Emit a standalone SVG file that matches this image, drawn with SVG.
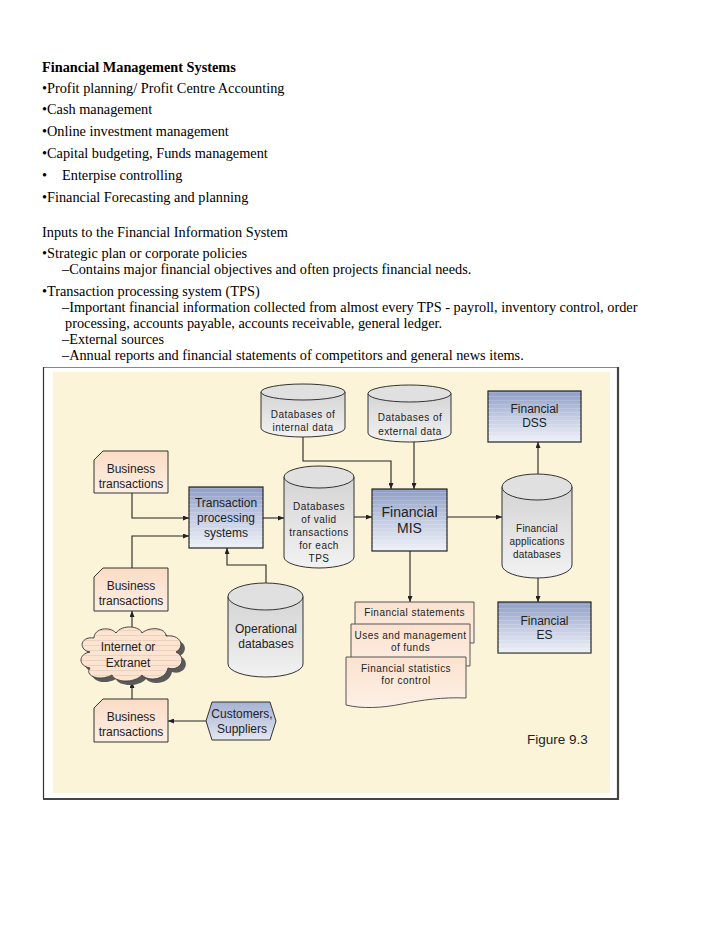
<svg xmlns="http://www.w3.org/2000/svg" width="728" height="942" viewBox="0 0 728 942">
<style>
.t{font-family:"Liberation Serif","Times New Roman",serif;font-size:14.3px;fill:#000}
.b{font-weight:bold}
.s{font-family:"Liberation Sans",Arial,sans-serif;fill:#222;text-anchor:middle}
.f12{font-size:12px}
.f14{font-size:14px}
.f10{font-size:10px;letter-spacing:0.45px}
.f95{font-size:10px;letter-spacing:0.2px}
.ln{fill:none;stroke:#222;stroke-width:1.1}
.box{fill:url(#boxG);stroke:#222;stroke-width:1.2}
.cyl{fill:url(#cylG);stroke:#333;stroke-width:1}
.cylTop{fill:#e0e0e0;stroke:#333;stroke-width:1}
.peach{fill:url(#peachG);stroke:#333;stroke-width:1}
.doc{fill:url(#docG);stroke:#555;stroke-width:1}
</style>
<defs>
<linearGradient id="boxG" x1="0" y1="0" x2="0" y2="1">
<stop offset="0" stop-color="#8e9dc6"/>
<stop offset="0.5" stop-color="#c3cbe3"/>
<stop offset="1" stop-color="#eef1f8"/>
</linearGradient>
<linearGradient id="cylG" x1="0" y1="0" x2="0" y2="1">
<stop offset="0" stop-color="#d4d4d4"/>
<stop offset="1" stop-color="#f2f2f2"/>
</linearGradient>
<linearGradient id="peachG" x1="0" y1="0" x2="0" y2="1">
<stop offset="0" stop-color="#fbdcc5"/>
<stop offset="1" stop-color="#fdeee3"/>
</linearGradient>
<linearGradient id="docG" x1="0" y1="0" x2="0" y2="1">
<stop offset="0" stop-color="#fbe2cf"/>
<stop offset="1" stop-color="#fdf0e6"/>
</linearGradient>
<linearGradient id="hexG" x1="0" y1="0" x2="0" y2="1">
<stop offset="0" stop-color="#a6b2d2"/>
<stop offset="1" stop-color="#e2e6f1"/>
</linearGradient>
<pattern id="stripes" width="6" height="4" patternUnits="userSpaceOnUse">
<rect width="6" height="1" fill="#ffffff" fill-opacity="0.15"/>
</pattern>
<pattern id="cstripes" width="6" height="5" patternUnits="userSpaceOnUse">
<rect width="6" height="1" fill="#b89a88" fill-opacity="0.25"/>
</pattern>
<marker id="arr" viewBox="0 0 6 5" refX="6" refY="2.5" markerWidth="6" markerHeight="5" markerUnits="userSpaceOnUse" orient="auto">
<path d="M0,0 L6,2.5 L0,5 z" fill="#222"/>
</marker>
</defs>

<rect width="728" height="942" fill="#ffffff"/>

<g id="text-block">
<text class="t b" x="42" y="72">Financial Management Systems</text>
<text class="t" x="42" y="93">•Profit planning/ Profit Centre Accounting</text>
<text class="t" x="42" y="114">•Cash management</text>
<text class="t" x="42" y="136">•Online investment management</text>
<text class="t" x="42" y="158">•Capital budgeting, Funds management</text>
<text class="t" x="42" y="180">•</text>
<text class="t" x="62" y="180">Enterpise controlling</text>
<text class="t" x="42" y="202">•Financial Forecasting and planning</text>
<text class="t" x="42" y="237">Inputs to the Financial Information System</text>
<text class="t" x="42" y="258">•Strategic plan or corporate policies</text>
<text class="t" x="62" y="274">–Contains major financial objectives and often projects financial needs.</text>
<text class="t" x="42" y="296">•Transaction processing system (TPS)</text>
<text class="t" x="62" y="312">–Important financial information collected from almost every TPS - payroll, inventory control, order</text>
<text class="t" x="65" y="328">processing, accounts payable, accounts receivable, general ledger.</text>
<text class="t" x="62" y="344">–External sources</text>
<text class="t" x="62" y="360">–Annual reports and financial statements of competitors and general news items.</text>
</g>

<g id="frame">
<rect x="43.5" y="367.5" width="574" height="431" fill="#ffffff" stroke="#888" stroke-width="1"/>
<line x1="43.5" y1="367" x2="43.5" y2="799" stroke="#333" stroke-width="1.2"/>
<line x1="618" y1="367" x2="618" y2="800" stroke="#444" stroke-width="2.2"/>
<line x1="43" y1="799" x2="619" y2="799" stroke="#444" stroke-width="2.2"/>
<rect x="53" y="372" width="557" height="421" fill="#fcf4d8"/>
</g>

<g id="connectors">
<path class="ln" d="M132,493 V518 H189" marker-end="url(#arr)"/>
<path class="ln" d="M132,568 V536 H189" marker-end="url(#arr)"/>
<path class="ln" d="M263,518 H284" marker-end="url(#arr)"/>
<path class="ln" d="M354,517 H372" marker-end="url(#arr)"/>
<path class="ln" d="M303,437 V461 H391 V489" marker-end="url(#arr)"/>
<path class="ln" d="M414,442 V489" marker-end="url(#arr)"/>
<path class="ln" d="M447,517 H502" marker-end="url(#arr)"/>
<path class="ln" d="M538,474 V442" marker-end="url(#arr)"/>
<path class="ln" d="M538,578 V602" marker-end="url(#arr)"/>
<path class="ln" d="M410,551 V602" marker-end="url(#arr)"/>
<path class="ln" d="M266,583 V565 H227 V548" marker-end="url(#arr)"/>
<path class="ln" d="M132,629 V611" marker-end="url(#arr)"/>
<path class="ln" d="M132,699 V682" marker-end="url(#arr)"/>
<path class="ln" d="M206,721 H168" marker-end="url(#arr)"/>
</g>

<g id="db-internal">
<path class="cyl" d="M261,392 V428 A42,9 0 0 0 345,428 V392 Z"/>
<ellipse class="cylTop" cx="303" cy="392" rx="42" ry="8"/>
<text class="s f10" x="303" y="418">Databases of</text>
<text class="s f10" x="303" y="431">internal data</text>
</g>

<g id="db-external">
<path class="cyl" d="M368,393.5 V433 A41.5,9 0 0 0 451,433 V393.5 Z"/>
<ellipse class="cylTop" cx="409.5" cy="393.5" rx="41.5" ry="8.5"/>
<text class="s f10" x="410" y="421">Databases of</text>
<text class="s f10" x="410" y="435">external data</text>
</g>

<g id="fin-dss">
<rect class="box" x="488" y="391" width="93" height="51"/>
<rect x="488" y="391" width="93" height="51" fill="url(#stripes)"/>
<text class="s f12" x="534.5" y="413">Financial</text>
<text class="s f12" x="534.5" y="427">DSS</text>
</g>

<g id="bt-top">
<path class="peach" d="M94,460 L103,451 H168 V493 H94 Z"/>
<text class="s f12" x="131" y="473">Business</text>
<text class="s f12" x="131" y="488">transactions</text>
</g>

<g id="tps">
<rect class="box" x="189" y="487" width="74" height="61"/>
<rect x="189" y="487" width="74" height="61" fill="url(#stripes)"/>
<text class="s f12" x="226" y="507">Transaction</text>
<text class="s f12" x="226" y="522">processing</text>
<text class="s f12" x="226" y="537">systems</text>
</g>

<g id="db-valid">
<path class="cyl" d="M284,477 V557 A35,11 0 0 0 354,557 V477 Z"/>
<ellipse class="cylTop" cx="319" cy="477" rx="35" ry="11"/>
<text class="s f10" x="319" y="509.5">Databases</text>
<text class="s f10" x="319" y="522.5">of valid</text>
<text class="s f10" x="319" y="535.5">transactions</text>
<text class="s f10" x="319" y="548.5">for each</text>
<text class="s f10" x="319" y="561.5">TPS</text>
</g>

<g id="fin-mis">
<rect class="box" x="372" y="489" width="75" height="62"/>
<rect x="372" y="489" width="75" height="62" fill="url(#stripes)"/>
<text class="s f14" x="409.5" y="517">Financial</text>
<text class="s f14" x="409.5" y="533">MIS</text>
</g>

<g id="db-finapp">
<path class="cyl" d="M502,487 V565 A35,13 0 0 0 572,565 V487 Z"/>
<ellipse class="cylTop" cx="537" cy="487" rx="35" ry="13"/>
<text class="s f95" x="537" y="531.5">Financial</text>
<text class="s f95" x="537" y="544.5">applications</text>
<text class="s f95" x="537" y="557.5">databases</text>
</g>

<g id="fin-es">
<rect class="box" x="498" y="602" width="93" height="51"/>
<rect x="498" y="602" width="93" height="51" fill="url(#stripes)"/>
<text class="s f12" x="544.5" y="625">Financial</text>
<text class="s f12" x="544.5" y="639">ES</text>
</g>

<g id="bt-mid">
<path class="peach" d="M94,577 L103,568 H168 V611 H94 Z"/>
<text class="s f12" x="131" y="590">Business</text>
<text class="s f12" x="131" y="605">transactions</text>
</g>

<g id="db-operational">
<path class="cyl" d="M228,596.5 V664 A37.5,13 0 0 0 303,664 V596.5 Z"/>
<ellipse class="cylTop" cx="265.5" cy="596.5" rx="37.5" ry="13.5"/>
<text class="s f12" x="266" y="633">Operational</text>
<text class="s f12" x="266" y="648">databases</text>
</g>

<g id="cloud">
<path transform="translate(4,4)" fill="#5a5a5a" d="M90,652 C78,650 80,636 94,638 C94,628 110,626 116,633 C122,624 140,626 142,633 C150,626 166,628 166,636 C180,634 186,646 176,652 C188,658 180,672 168,668 C166,680 148,682 142,675 C134,684 114,682 112,675 C100,682 84,676 90,668 C78,666 78,654 90,652 Z"/>
<path fill="#fde4d0" stroke="#444" stroke-width="1" d="M90,652 C78,650 80,636 94,638 C94,628 110,626 116,633 C122,624 140,626 142,633 C150,626 166,628 166,636 C180,634 186,646 176,652 C188,658 180,672 168,668 C166,680 148,682 142,675 C134,684 114,682 112,675 C100,682 84,676 90,668 C78,666 78,654 90,652 Z"/>
<path fill="url(#cstripes)" d="M90,652 C78,650 80,636 94,638 C94,628 110,626 116,633 C122,624 140,626 142,633 C150,626 166,628 166,636 C180,634 186,646 176,652 C188,658 180,672 168,668 C166,680 148,682 142,675 C134,684 114,682 112,675 C100,682 84,676 90,668 C78,666 78,654 90,652 Z"/>
<text class="s f12" x="128" y="651">Internet or</text>
<text class="s f12" x="128" y="667">Extranet</text>
</g>

<g id="bt-bottom">
<path class="peach" d="M94,708 L103,699 H168 V742 H94 Z"/>
<text class="s f12" x="131" y="721">Business</text>
<text class="s f12" x="131" y="736">transactions</text>
</g>

<g id="customers">
<path fill="url(#hexG)" stroke="#333" stroke-width="1" d="M206,721 L212,702 H270 L276,721 L270,740 H212 Z"/>
<text class="s f12" x="242" y="718">Customers,</text>
<text class="s f12" x="242" y="733">Suppliers</text>
</g>

<g id="documents">
<path class="doc" d="M355,602 H474 V643 C450,642 430,646 410,650 C390,654 370,654 355,650 Z"/>
<text class="s f10" x="414.5" y="615.5">Financial statements</text>
<path class="doc" d="M351,624 H470 V666 C446,665 426,669 406,673 C386,677 366,677 351,673 Z"/>
<text class="s f10" x="410.5" y="638.5">Uses and management</text>
<text class="s f10" x="410.5" y="650.5">of funds</text>
<path class="doc" d="M346,657 H466 V698 C442,697 422,700 402,704 C382,708 362,709 346,705 Z"/>
<text class="s f10" x="406" y="671.5">Financial statistics</text>
<text class="s f10" x="406" y="683.5">for control</text>
</g>

<text id="figure-label" x="527" y="744" font-family="Liberation Sans, Arial, sans-serif" font-size="13.5" fill="#222">Figure 9.3</text>
</svg>
